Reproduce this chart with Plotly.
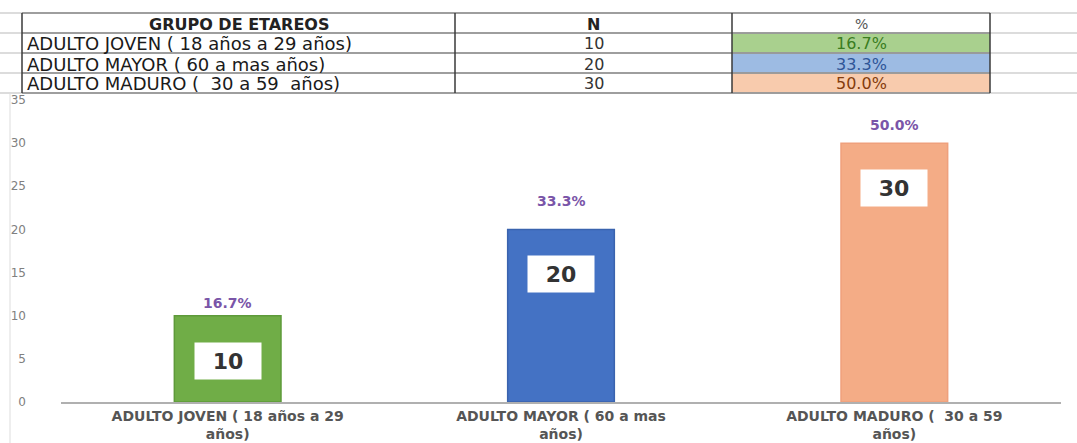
import plotly.graph_objects as go

# ---- data ----
grupos = [
    "ADULTO JOVEN ( 18 años a 29 años)",
    "ADULTO MAYOR ( 60 a mas años)",
    "ADULTO MADURO (\u00a0 30 a 59 \u00a0años)",
]
etiquetas_eje = [
    "ADULTO JOVEN ( 18 años a 29<br>años)",
    "ADULTO MAYOR ( 60 a mas<br>años)",
    "ADULTO MADURO (\u00a0 30 a 59<br>años)",
]
n_valores = [10, 20, 30]
y_ticks = [0, 5, 10, 15, 20, 25, 30, 35]

total = sum(n_valores)
porcentajes = [f"{v / total * 100:.1f}%" for v in n_valores]

# ---- styles ----
W, H = 1077, 443
M_L, M_R, M_T, M_B = 61, 16, 100, 41
colores_barra = ["#70AD47", "#4472C4", "#F4AC86"]
bordes_barra = ["#5E9A3A", "#3A63AE", "#EFA07C"]
relleno_celda = ["#A9D08E", "#9DBBE3", "#F8CBAD"]
texto_celda = ["#3A7D1F", "#2F5597", "#843C0C"]
desfase_pct = [13, 28, 18]    # px from bar top to the centre of the % labels
desfase_valor = -45           # px from bar top to the centre of the value boxes

plot_w = W - M_L - M_R
plot_h = H - M_T - M_B


def px_x(px):
    return (px - M_L) / plot_w


def px_y(py):
    return (H - M_B - py) / plot_h


fig = go.Figure()
fig.add_trace(go.Bar(
    x=grupos,
    y=n_valores,
    marker=dict(color=colores_barra, line=dict(color=bordes_barra, width=1.5)),
    width=0.32,
    hoverinfo="skip",
))

anns = []
shapes = []

# labels on bars
for g, v, p, d in zip(grupos, n_valores, porcentajes, desfase_pct):
    anns.append(dict(
        x=g, y=v, xref="x", yref="y", text=f"<b>{p}</b>", showarrow=False,
        xanchor="center", yanchor="middle", yshift=d,
        font=dict(family="DejaVu Sans", size=14, color="#7A55A8"),
    ))
    anns.append(dict(
        x=g, y=v, xref="x", yref="y", text=f"<b>{v}</b>", showarrow=False,
        xanchor="center", yanchor="middle", yshift=desfase_valor,
        bgcolor="#FFFFFF", borderpad=2, width=62, height=32,
        font=dict(family="DejaVu Sans", size=22, color="#333333"),
    ))

# ---- spreadsheet table above the chart ----
filas_y = [13, 33, 53, 73, 93]
col_x = [22, 455, 732, 990]

# light sheet gridlines across the full width
for yy in filas_y:
    shapes.append(dict(type="line", xref="paper", yref="paper",
                       x0=px_x(0), x1=px_x(W), y0=px_y(yy), y1=px_y(yy),
                       line=dict(color="#D0D0D0", width=1.5)))
# coloured % cells
for i, c in enumerate(relleno_celda):
    shapes.append(dict(type="rect", xref="paper", yref="paper",
                       x0=px_x(col_x[2]), x1=px_x(col_x[3]),
                       y0=px_y(filas_y[i + 1]), y1=px_y(filas_y[i + 2]),
                       fillcolor=c, line=dict(width=0), layer="below"))
# table borders
for yy in filas_y:
    shapes.append(dict(type="line", xref="paper", yref="paper",
                       x0=px_x(col_x[0]), x1=px_x(col_x[3]), y0=px_y(yy), y1=px_y(yy),
                       line=dict(color="#8A8A8A", width=1.5)))
for xx in col_x:
    shapes.append(dict(type="line", xref="paper", yref="paper",
                       x0=px_x(xx), x1=px_x(xx), y0=px_y(filas_y[0]), y1=px_y(filas_y[-1]),
                       line=dict(color="#3A3A3A", width=1.5)))
# faint sheet edge on the left
shapes.append(dict(type="line", xref="paper", yref="paper",
                   x0=px_x(10), x1=px_x(10), y0=px_y(93), y1=px_y(H),
                   line=dict(color="#DDDDDD", width=1)))

fuente_tabla = "DejaVu Sans"
centro_y = [(filas_y[i] + filas_y[i + 1]) / 2 + 1 for i in range(4)]


def celda(x_px, y_px, texto, size, color, anchor="center"):
    anns.append(dict(x=px_x(x_px), y=px_y(y_px), xref="paper", yref="paper",
                     xanchor=anchor, yanchor="middle", text=texto, showarrow=False,
                     font=dict(family=fuente_tabla, size=size, color=color)))


# header
celda((col_x[0] + col_x[1]) / 2, centro_y[0], "<b>GRUPO DE ETAREOS</b>", 16, "#222222")
celda((col_x[1] + col_x[2]) / 2, centro_y[0], "<b>N</b>", 16, "#222222")
celda((col_x[2] + col_x[3]) / 2, centro_y[0], "%", 14, "#555555")
for i, (g, v, p) in enumerate(zip(grupos, n_valores, porcentajes)):
    cy = centro_y[i + 1]
    celda(col_x[0] + 3, cy, g, 18, "#1A1A1A", anchor="left")
    celda((col_x[1] + col_x[2]) / 2, cy, str(v), 16, "#333333")
    celda((col_x[2] + col_x[3]) / 2, cy, p, 16, texto_celda[i])

fig.update_layout(
    width=W, height=H,
    margin=dict(l=M_L, r=M_R, t=M_T, b=M_B),
    paper_bgcolor="#FFFFFF", plot_bgcolor="#FFFFFF",
    showlegend=False,
    bargap=0.68,
    annotations=anns,
    shapes=shapes,
    xaxis=dict(
        tickmode="array", tickvals=grupos, ticktext=etiquetas_eje,
        showline=True, linecolor="#B0B0B0", linewidth=1.5,
        showgrid=False, ticks="", automargin=False,
        tickfont=dict(family="DejaVu Sans", size=14, color="#555555", weight="bold"),
    ),
    yaxis=dict(
        range=[0, 35], tickvals=y_ticks, showgrid=False, zeroline=False,
        showline=False, ticks="", ticklabelstandoff=34, automargin=False,
        tickfont=dict(family="DejaVu Sans", size=12, color="#808080"),
    ),
)

fig.write_html("out.html")
